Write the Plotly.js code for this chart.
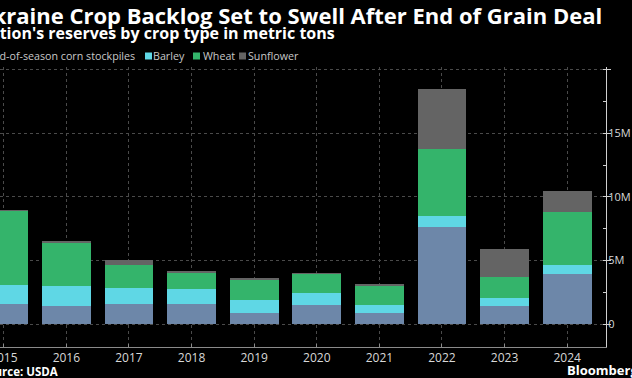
<!DOCTYPE html>
<html>
<head>
<meta charset="utf-8">
<script src="https://cdn.plot.ly/plotly-3.0.1.min.js"></script>
<style>html,body{margin:0;padding:0;background:#000;}#chart{width:632px;height:378px;}</style>
</head>
<body>
<div id="chart"></div>
<script>
const years = ['2015','2016','2017','2018','2019','2020','2021','2022','2023','2024'];
const corn = [1.57, 1.46, 1.59, 1.59, 0.89, 1.51, 0.86, 7.61, 1.44, 3.92];
const barley = [1.51, 1.57, 1.24, 1.16, 1.02, 0.92, 0.65, 0.89, 0.65, 0.76];
const wheat = [5.82, 3.38, 1.82, 1.25, 1.57, 1.52, 1.52, 5.24, 1.65, 4.13];
const sunflower = [0.08, 0.15, 0.37, 0.16, 0.13, 0.08, 0.11, 4.71, 2.15, 1.63];
const seriesNames = ['End-of-season corn stockpiles', 'Barley', 'Wheat', 'Sunflower'];
const seriesColors = ['#6d87a9', '#5fd7e5', '#34b46b', '#646464'];
const yTickVals = [0, 5, 10, 15, 20];
const yTickText = ['0', '5M', '10M', '15M', ''];

const seriesData = [corn, barley, wheat, sunflower];
const traces = seriesData.map((vals, i) => ({
  type: 'bar',
  x: years,
  y: vals.map(v => v * 1e6),
  name: seriesNames[i],
  marker: {color: seriesColors[i], line: {width: 0}},
  width: 0.78,
  hoverinfo: 'skip'
}));

// plot area: 606 px wide, 280 px tall, top at 67 px
const PW = 606, PH = 280, PT = 67;
const px = v => v / PW;
const py = v => (PT + PH - v) / PH;

const legendFont = {family: 'Open Sans', size: 10.7, color: '#c8c8c8'};
const markerLeft = [-12, 145, 193, 239];
const textLeft = [-2, 153, 203, 248];
const annotations = [
  {text: 'Ukraine Crop Backlog Set to Swell After End of Grain Deal', xref: 'paper', yref: 'paper',
   x: px(604), y: py(15), xanchor: 'right', yanchor: 'middle', showarrow: false,
   font: {family: 'Open Sans', size: 22, color: '#ffffff', weight: 700}},
  {text: "Nation's reserves by crop type in metric tons", xref: 'paper', yref: 'paper',
   x: px(337), y: py(33.5), xanchor: 'right', yanchor: 'middle', showarrow: false,
   font: {family: 'Open Sans', size: 16, color: '#ffffff', weight: 700}},
  {text: 'Source: USDA', xref: 'paper', yref: 'paper',
   x: px(60), y: py(371), xanchor: 'right', yanchor: 'middle', showarrow: false,
   font: {family: 'Open Sans', size: 11.5, color: '#ffffff', weight: 700}},
  {text: 'Bloomberg', xref: 'paper', yref: 'paper',
   x: px(565), y: py(370), xanchor: 'left', yanchor: 'middle', showarrow: false,
   font: {family: 'Open Sans', size: 13, color: '#ffffff', weight: 700}}
];
const shapes = [];
annotations.push({text: seriesNames[0], xref: 'paper', yref: 'paper', x: px(137), y: py(56),
  xanchor: 'right', yanchor: 'middle', showarrow: false, font: legendFont});
for (let i = 1; i < 4; i++) {
  annotations.push({text: seriesNames[i], xref: 'paper', yref: 'paper', x: px(textLeft[i] - 2), y: py(56),
    xanchor: 'left', yanchor: 'middle', showarrow: false, font: legendFont});
}
for (let i = 0; i < 4; i++) {
  shapes.push({type: 'rect', xref: 'paper', yref: 'paper',
    x0: px(markerLeft[i]), x1: px(markerLeft[i] + 7), y0: py(59.5), y1: py(52.5),
    fillcolor: seriesColors[i], line: {width: 0}});
}

const layout = {
  width: 632, height: 378,
  paper_bgcolor: '#000000', plot_bgcolor: '#000000',
  margin: {l: 0, r: 26, t: 67, b: 31, pad: 0},
  barmode: 'stack',
  showlegend: false,
  xaxis: {
    type: 'category', range: [-0.06, 9.62],
    showgrid: true, gridcolor: '#4a4a4a', griddash: 'dot', gridwidth: 1,
    showline: true, linecolor: '#8a8a8a', linewidth: 1,
    ticks: 'inside', ticklen: 3, tickcolor: '#8a8a8a',
    tickfont: {family: 'Open Sans', size: 12, color: '#d8d8d8'},
    fixedrange: true
  },
  yaxis: {
    side: 'right', range: [-1.78e6, 20.2e6],
    tickvals: yTickVals.map(v => v * 1e6), ticktext: yTickText,
    showgrid: true, gridcolor: '#4a4a4a', griddash: 'dot', gridwidth: 1,
    zeroline: false,
    showline: true, linecolor: '#d0d0d0', linewidth: 1,
    ticks: 'outside', ticklen: 4, tickcolor: '#d0d0d0',
    ticklabelstandoff: -5,
    minor: {dtick: 2.5e6, tick0: 0, ticks: 'inside', ticklen: 3, tickcolor: '#d0d0d0', showgrid: false},
    tickfont: {family: 'Open Sans', size: 11, color: '#d8d8d8'},
    fixedrange: true
  },
  shapes: shapes,
  annotations: annotations
};

Plotly.newPlot('chart', traces, layout, {displayModeBar: false, staticPlot: true});
</script>
</body>
</html>
